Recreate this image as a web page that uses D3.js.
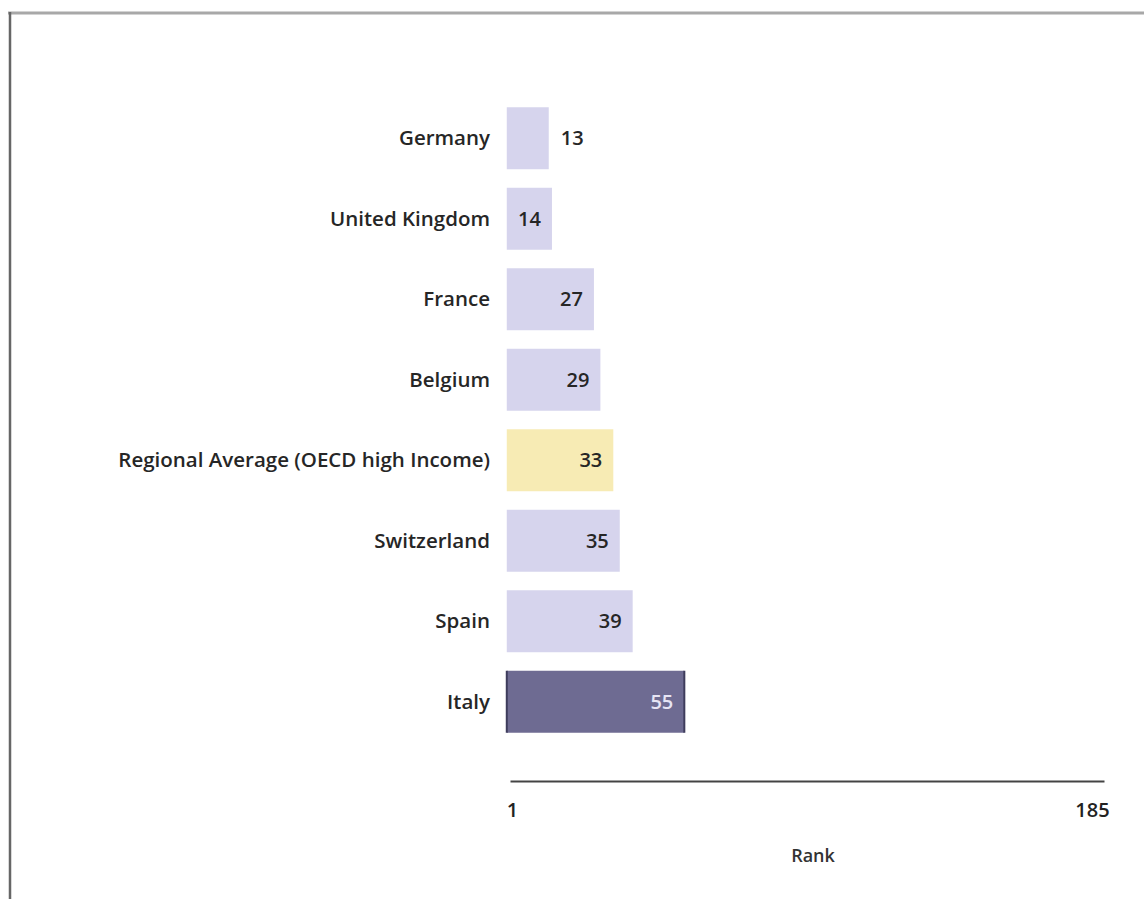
<!DOCTYPE html>
<html><head><meta charset="utf-8">
<script src="https://cdn.jsdelivr.net/npm/d3@7"></script>
<style>
body{margin:0;background:#fff;}
svg{display:block;}
text{font-family:"Open Sans","Liberation Sans",sans-serif;font-weight:600;}
</style></head><body>
<svg id="c" width="1144" height="899"></svg>
<script>
const categories = ["Germany","United Kingdom","France","Belgium","Regional Average (OECD high Income)","Switzerland","Spain","Italy"];
const ranks = [13,14,27,29,33,35,39,55];
const kinds = ["country","country","country","country","average","country","country","focus"];
const rankTicks = [1,185];
const axisTitle = "Rank";

const colors = {country:"#d6d4ed", average:"#f7ebb4", focus:"#6e6b92"};
const labelColors = {country:"#262626", average:"#262626", focus:"#e6e4f4"};

const svg = d3.select("#c");
// frame
svg.append("line").attr("x1",8).attr("x2",1144).attr("y1",13).attr("y2",13).attr("stroke","#a8a8a8").attr("stroke-width",3);
svg.append("line").attr("x1",10).attr("x2",10).attr("y1",12).attr("y2",899).attr("stroke","#666").attr("stroke-width",2.5);

const x = d3.scaleLinear().domain([1,185]).range([510,1104]);
const y = d3.scaleBand().domain(categories).range([98,742]).paddingInner(0.23).paddingOuter(0.115);

const data = categories.map((c,i)=>({c, v:ranks[i], k:kinds[i]}));

const g = svg.append("g");
g.selectAll("rect").data(data).join("rect")
  .attr("x", x(0)).attr("y", d=>y(d.c))
  .attr("width", d=>x(d.v)-x(0)).attr("height", y.bandwidth())
  .attr("fill", d=>colors[d.k]);
// dark edges of the focus bar
g.selectAll("line.edge").data(data.filter(d=>d.k==="focus").flatMap(d=>[{d,e:0},{d,e:d.v}])).join("line")
  .attr("class","edge")
  .attr("x1", o=>x(o.e)).attr("x2", o=>x(o.e))
  .attr("y1", o=>y(o.d.c)).attr("y2", o=>y(o.d.c)+y.bandwidth())
  .attr("stroke","#3e3c5c").attr("stroke-width",2);

g.selectAll("text.cat").data(data).join("text").attr("class","cat")
  .attr("x", 490).attr("y", d=>y(d.c)+y.bandwidth()/2).attr("dy","0.35em")
  .attr("text-anchor","end").attr("font-size",20.5).attr("fill","#262626").text(d=>d.c);

g.selectAll("text.val").data(data).join("text").attr("class","val")
  .attr("x", d=> (x(d.v)-x(0) < 42) ? x(d.v)+12 : x(d.v)-11)
  .attr("text-anchor", d=> (x(d.v)-x(0) < 42) ? "start" : "end")
  .attr("y", d=>y(d.c)+y.bandwidth()/2).attr("dy","0.35em")
  .attr("font-size",20).attr("font-weight",700).attr("fill", d=>labelColors[d.k]).text(d=>d.v);

// axis
const ax = svg.append("g").attr("transform","translate(0,781)")
  .call(d3.axisBottom(x).tickValues(rankTicks).tickSize(0).tickPadding(22).tickFormat(d3.format("d")));
ax.select(".domain").attr("stroke","#444").attr("stroke-width",2);
ax.selectAll(".tick text").attr("font-size",20).attr("fill","#222")
  .attr("font-family","'Open Sans',sans-serif").attr("font-weight",700)
  .attr("dx", d=> d===185 ? -12 : 2);

svg.append("text").attr("x",(x(1)+x(185))/2+6).attr("y",862).attr("text-anchor","middle")
  .attr("font-size",18).attr("fill","#333").text(axisTitle);
</script></body></html>
